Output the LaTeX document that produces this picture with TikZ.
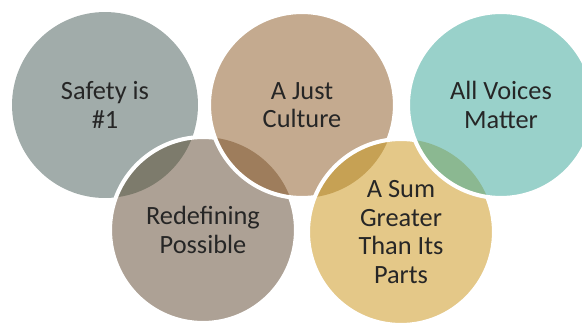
\documentclass[tikz,border=0pt]{standalone}
\usepackage{fontspec}
\setmainfont{Carlito}
\definecolor{safetyc}{HTML}{A1ACAA}
\definecolor{justc}{HTML}{C4AA8F}
\definecolor{voicesc}{HTML}{99D1CA}
\definecolor{redefc}{HTML}{ADA195}
\definecolor{sumc}{HTML}{E4C888}
\definecolor{lensSR}{HTML}{7D7B6C}
\definecolor{lensJR}{HTML}{9E7D5C}
\definecolor{lensJS}{HTML}{C6A154}
\definecolor{lensVS}{HTML}{8BB891}
\definecolor{textc}{HTML}{262626}
\begin{document}
\begin{tikzpicture}[
      x=0.02cm, y=-0.02cm,
      every node/.style={font=\fontsize{15}{16.2}\selectfont, align=center, text=textc},
      ringline/.style={draw=white, line width=2.3pt}
    ]
    \useasboundingbox (0,0) rectangle (582,325);
    \def\rr{1.86cm}
    \coordinate (safety) at (105,105);
    \coordinate (just)   at (302,105);
    \coordinate (voices) at (501,105);
    \coordinate (redef)  at (203,230);
    \coordinate (sum)    at (401,232);
    % rings, each one laid over the one before it
    \fill[safetyc] (safety) circle (\rr);
    \foreach \prev/\new/\ncol/\lcol in {safety/redef/redefc/lensSR, redef/just/justc/lensJR,
                                         just/sum/sumc/lensJS, sum/voices/voicesc/lensVS} {
      \fill[\ncol] (\new) circle (\rr);
      \begin{scope}
        \clip (\new) circle (\rr);
        \fill[\lcol] (\prev) circle (\rr);
      \end{scope}
      \draw[ringline] (\new) circle (\rr);
    }
    \node (safetyt) at (safety) {Safety is\\\#1};
    \node (justt)   at (just)   {A Just\\Culture};
    \node (voicest) at (voices) {All Voices\\Matter};
    \node (redeft)  at (redef)  {Redefining\\Possible};
    \node (sumt)    at (sum)    {A Sum\\Greater\\Than Its\\Parts};
  \end{tikzpicture}
\end{document}
